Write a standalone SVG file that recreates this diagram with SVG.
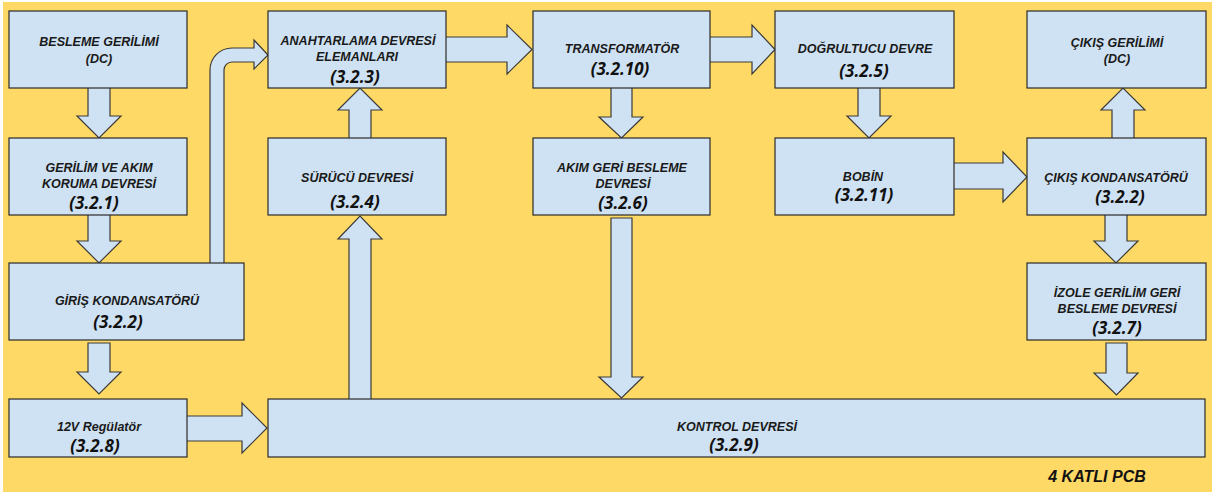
<svg xmlns="http://www.w3.org/2000/svg" width="1212" height="492" viewBox="0 0 1212 492">
<style>
.bg{fill:#FFD966}
.box{fill:#CFE2F3;stroke:#2b2b2b;stroke-width:1.2}
.arr{fill:#CFE2F3;stroke:#3a3a3a;stroke-width:1.2;stroke-linejoin:miter}
.t{font-family:"Liberation Sans",Arial,sans-serif;font-weight:bold;font-style:italic;font-size:12.5px;fill:#1a1a1a;text-anchor:middle}
.n{font-family:"Open Sans","Liberation Sans",sans-serif;font-weight:bold;font-style:italic;font-size:17px;fill:#111;text-anchor:middle}
.pcb{font-family:"Liberation Sans",Arial,sans-serif;font-weight:bold;font-style:italic;font-size:16px;fill:#111;text-anchor:middle}
</style>
<rect width="1212" height="492" fill="#ffffff"/>
<rect class="bg" x="3" y="2" width="1209" height="490"/>
<g id="connectors">
<polygon class="arr" points="88,86 110,86 110,116 121,116 99,138 77,116 88,116"/>
<polygon class="arr" points="88,213 110,213 110,241 121,241 99,263 77,241 88,241"/>
<polygon class="arr" points="88,343 110,343 110,372 121,372 99,394 77,372 88,372"/>
<polygon class="arr" points="185,416 242,416 242,403 267,428 242,453 242,441 185,441"/>
<path class="arr" d="M210,265 L210,70 A22,22 0 0 1 232,48 L254,48 L254,40 L268,55 L254,69 L254,62 L232,62 A8,8 0 0 0 224,70 L224,265 Z"/>
<polygon class="arr" points="349,140 349,110 338,110 360,88 382,110 371,110 371,140"/>
<polygon class="arr" points="349,401 349,239 338,239 360,216 382,239 371,239 371,401"/>
<polygon class="arr" points="444,37 507,37 507,25 532,49.5 507,74 507,62 444,62"/>
<polygon class="arr" points="611,86 632,86 632,117 643,117 621.5,138 599,117 611,117"/>
<polygon class="arr" points="611,218 632,218 632,377 643,377 621.5,398 599,377 611,377"/>
<polygon class="arr" points="708,37 752,37 752,25 775,49.5 752,74 752,62 708,62"/>
<polygon class="arr" points="858,86 880,86 880,116 891,116 869,138 847,116 858,116"/>
<polygon class="arr" points="952,163 1003,163 1003,152 1027,177 1003,202 1003,189 952,189"/>
<polygon class="arr" points="1112,140 1112,110 1101,110 1123,88 1145,110 1134,110 1134,140"/>
<polygon class="arr" points="1105,213 1127,213 1127,241 1138,241 1116,263 1094,241 1105,241"/>
<polygon class="arr" points="1106,343 1127,343 1127,373 1138,373 1116.5,395 1094,373 1106,373"/>
</g>
<g id="besleme"><rect class="box" x="9" y="11" width="178" height="77"/>
<text class="t" x="99" y="46">BESLEME GERİLİMİ</text><text class="t" x="99" y="63">(DC)</text></g>
<g id="koruma"><rect class="box" x="9" y="138" width="178" height="77"/>
<text class="t" x="99" y="172">GERİLİM VE AKIM</text><text class="t" x="99" y="188">KORUMA DEVRESİ</text><text class="n" x="94" y="209">(3.2.1)</text></g>
<g id="giris"><rect class="box" x="9" y="263" width="235" height="77"/>
<text class="t" x="127" y="305">GİRİŞ KONDANSATÖRÜ</text><text class="n" x="118" y="328">(3.2.2)</text></g>
<g id="regulator"><rect class="box" x="9" y="399" width="178" height="58"/>
<text class="t" x="99" y="431">12V Regülatör</text><text class="n" x="95" y="452">(3.2.8)</text></g>
<g id="anahtarlama"><rect class="box" x="268" y="11" width="178" height="77"/>
<text class="t" x="358" y="45">ANAHTARLAMA DEVRESİ</text><text class="t" x="357" y="61">ELEMANLARI</text><text class="n" x="355" y="83">(3.2.3)</text></g>
<g id="surucu"><rect class="box" x="268" y="138" width="178" height="77"/>
<text class="t" x="357" y="182">SÜRÜCÜ DEVRESİ</text><text class="n" x="355" y="208">(3.2.4)</text></g>
<g id="kontrol"><rect class="box" x="268" y="399" width="937" height="58"/>
<text class="t" x="737" y="431">KONTROL DEVRESİ</text><text class="n" x="734" y="451">(3.2.9)</text></g>
<g id="transformator"><rect class="box" x="533" y="11" width="177" height="77"/>
<text class="t" x="622" y="53">TRANSFORMATÖR</text><text class="n" x="620" y="75">(3.2.10)</text></g>
<g id="akim"><rect class="box" x="533" y="138" width="177" height="77"/>
<text class="t" x="622" y="172">AKIM GERİ BESLEME</text><text class="t" x="623" y="188">DEVRESİ</text><text class="n" x="623" y="209">(3.2.6)</text></g>
<g id="dogrultucu"><rect class="box" x="775" y="11" width="179" height="77"/>
<text class="t" x="865" y="53">DOĞRULTUCU DEVRE</text><text class="n" x="864" y="77">(3.2.5)</text></g>
<g id="bobin"><rect class="box" x="775" y="138" width="179" height="77"/>
<text class="t" x="863" y="181">BOBİN</text><text class="n" x="864" y="201">(3.2.11)</text></g>
<g id="cikis-gerilimi"><rect class="box" x="1027" y="11" width="179" height="77"/>
<text class="t" x="1117" y="47">ÇIKIŞ GERİLİMİ</text><text class="t" x="1117" y="63">(DC)</text></g>
<g id="cikis-kond"><rect class="box" x="1027" y="138" width="179" height="77"/>
<text class="t" x="1116" y="182">ÇIKIŞ KONDANSATÖRÜ</text><text class="n" x="1120" y="203">(3.2.2)</text></g>
<g id="izole"><rect class="box" x="1027" y="263" width="179" height="77"/>
<text class="t" x="1117" y="297">İZOLE GERİLİM GERİ</text><text class="t" x="1117" y="313">BESLEME DEVRESİ</text><text class="n" x="1117" y="334">(3.2.7)</text></g>
<text class="pcb" x="1097" y="482">4 KATLI PCB</text>
</svg>
